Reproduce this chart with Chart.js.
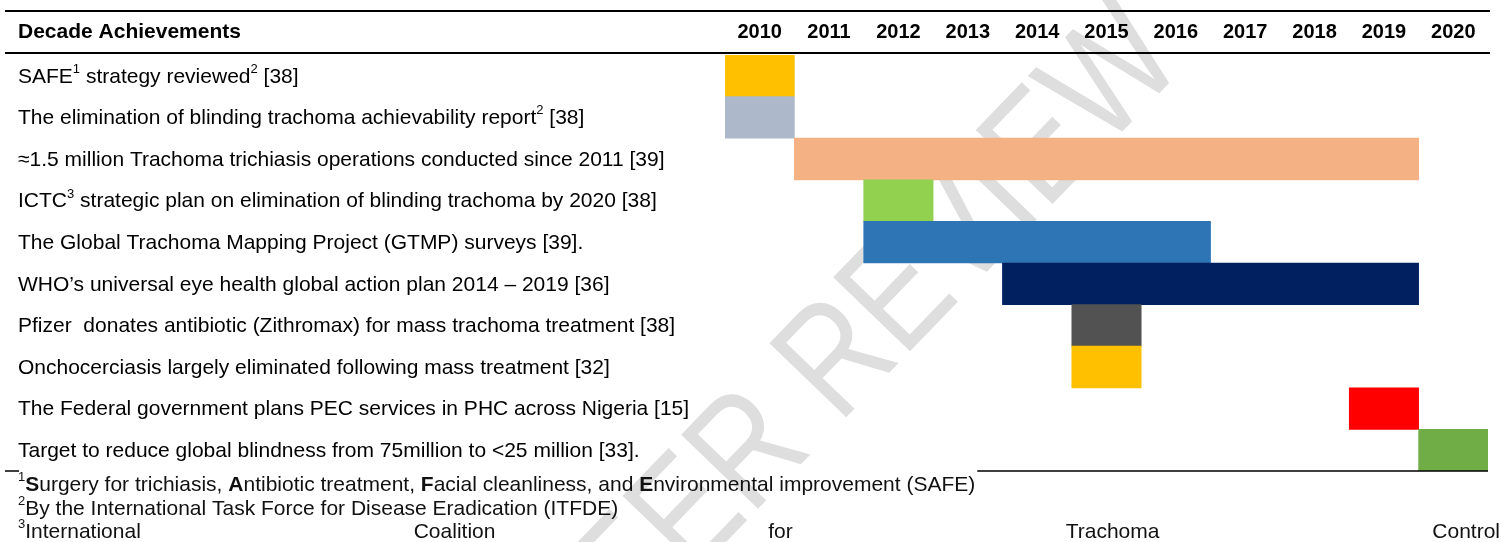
<!DOCTYPE html>
<html>
<head>
<meta charset="utf-8">
<script src="https://cdn.jsdelivr.net/npm/chart.js@4"></script>
<style>
  html, body { margin: 0; padding: 0; background: #fff; }
  #wrap { position: relative; width: 1501px; height: 542px; }
</style>
</head>
<body>
<div id="wrap"><canvas id="decadeChart"></canvas></div>
<script>
// Datos: logros de la década (^n = superíndice, *X* = negrita)
const achievements = [
    'SAFE^1 strategy reviewed^2 [38]',
    'The elimination of blinding trachoma achievability report^2 [38]',
    '≈1.5 million Trachoma trichiasis operations conducted since 2011 [39]',
    'ICTC^3 strategic plan on elimination of blinding trachoma by 2020 [38]',
    'The Global Trachoma Mapping Project (GTMP) surveys [39].',
    'WHO’s universal eye health global action plan 2014 – 2019 [36]',
    'Pfizer  donates antibiotic (Zithromax) for mass trachoma treatment [38]',
    'Onchocerciasis largely eliminated following mass treatment [32]',
    'The Federal government plans PEC services in PHC across Nigeria [15]',
    'Target to reduce global blindness from 75million to <25 million [33].'
];
const startYears = [2010, 2010, 2011, 2012, 2012, 2014, 2015, 2015, 2019, 2020];
const endYears = [2010, 2010, 2019, 2012, 2016, 2019, 2015, 2015, 2019, 2020];
const years = [2010, 2011, 2012, 2013, 2014, 2015, 2016, 2017, 2018, 2019, 2020];
const headerTitle = 'Decade Achievements';
const footnotes = [
    '^1*S*urgery for trichiasis, *A*ntibiotic treatment, *F*acial cleanliness, and *E*nvironmental improvement (SAFE)',
    '^2By the International Task Force for Disease Eradication (ITFDE)',
    '^3International Coalition for Trachoma Control'
];

const barColors = ['#FFC000', '#ADB9CA', '#F4B183', '#92D050', '#2E75B6',
    '#002060', '#525252', '#FFC000', '#FF0000', '#70AD47'];

const FONT = '"Liberation Sans", Arial, sans-serif';
const LABEL_SIZE = 21;
const YEAR_SIZE = 20;
const NOTE_SIZE = 21;

function plain(t) {
    return t.replace(/\^\d/g, '').replace(/\*/g, '');
}

// dibuja texto con superíndices y negritas, devuelve x final
function drawRich(ctx, text, x, y, size, bold, measureOnly) {
    const parts = text.split(/(\^\d|\*[^*]+\*)/).filter(Boolean);
    ctx.textBaseline = 'middle';
    ctx.textAlign = 'left';
    parts.forEach(p => {
        if (p[0] === '^') {
            ctx.font = `${Math.round(size * 0.62)}px ${FONT}`;
            if (!measureOnly) ctx.fillText(p.slice(1), x, y - size * 0.36);
            x += ctx.measureText(p.slice(1)).width;
        } else if (p[0] === '*') {
            ctx.font = `bold ${size}px ${FONT}`;
            if (!measureOnly) ctx.fillText(p.slice(1, -1), x, y);
            x += ctx.measureText(p.slice(1, -1)).width;
        } else {
            ctx.font = `${bold ? 'bold ' : ''}${size}px ${FONT}`;
            if (!measureOnly) ctx.fillText(p, x, y);
            x += ctx.measureText(p).width;
        }
    });
    return x;
}

// marca de agua y fondo
const watermarkPlugin = {
    id: 'watermark',
    beforeDraw(chart) {
        const ctx = chart.ctx;
        ctx.save();
        ctx.fillStyle = '#fff';
        ctx.fillRect(0, 0, chart.width, chart.height);
        ctx.translate(850, 352);
        ctx.rotate(-46 * Math.PI / 180);
        ctx.scale(0.82, 1);
        ctx.font = `155px ${FONT}`;
        ctx.fillStyle = '#dedede';
        ctx.textAlign = 'center';
        ctx.textBaseline = 'middle';
        ctx.fillText('PEER REVIEW', 0, 0);
        ctx.restore();
    }
};

// tabla: líneas, encabezados, etiquetas y notas
const tablePlugin = {
    id: 'tableText',
    afterDraw(chart) {
        const ctx = chart.ctx;
        const xs = chart.scales.x;
        const ys = chart.scales.y;
        const area = chart.chartArea;
        ctx.save();
        ctx.fillStyle = '#000';
        ctx.strokeStyle = '#000';

        // líneas del encabezado
        ctx.lineWidth = 2;
        ctx.beginPath();
        ctx.moveTo(5, 11); ctx.lineTo(area.right + 2, 11);
        ctx.moveTo(5, area.top - 2); ctx.lineTo(area.right + 2, area.top - 2);
        ctx.stroke();

        drawRich(ctx, headerTitle, 18, 32, LABEL_SIZE, true);
        ctx.font = `bold ${YEAR_SIZE}px ${FONT}`;
        ctx.textAlign = 'center';
        years.forEach(yr => {
            ctx.fillText(String(yr), xs.getPixelForValue(yr + 0.5), 32);
        });

        achievements.forEach((t, i) => {
            drawRich(ctx, t, 18, ys.getPixelForValue(i) + 1, LABEL_SIZE, false);
        });

        // notas al pie
        ctx.fillStyle = '#111';
        const noteY = [485, 509, 532];
        const end1 = drawRich(ctx, footnotes[0], 18, noteY[0], NOTE_SIZE, false);
        drawRich(ctx, footnotes[1], 18, noteY[1], NOTE_SIZE, false);

        // nota 3 justificada
        const words = footnotes[2].split(' ');
        const widths = words.map(w => drawRich(ctx, w, 0, 0, NOTE_SIZE, false, true));
        const total = widths.reduce((a, b) => a + b, 0);
        const gap = (1500 - 18 - total) / (words.length - 1);
        let x = 18;
        words.forEach((w, i) => {
            drawRich(ctx, w, x, noteY[2], NOTE_SIZE, false);
            x += widths[i] + gap;
        });

        // línea inferior de la tabla (tapada por la nota 1)
        ctx.strokeStyle = '#000';
        ctx.lineWidth = 1.5;
        ctx.beginPath();
        ctx.moveTo(5, area.bottom); ctx.lineTo(19, area.bottom);
        ctx.moveTo(end1 + 2, area.bottom); ctx.lineTo(area.right, area.bottom);
        ctx.stroke();
        ctx.restore();
    }
};

new Chart(document.getElementById('decadeChart'), {
    type: 'bar',
    data: {
        labels: achievements.map(plain),
        datasets: [{
            data: startYears.map((s, i) => [s, endYears[i] + 1]),
            backgroundColor: barColors,
            borderWidth: 0,
            barPercentage: 1,
            categoryPercentage: 1
        }]
    },
    options: {
        indexAxis: 'y',
        responsive: true,
        maintainAspectRatio: false,
        animation: false,
        devicePixelRatio: 1,
        layout: {
            padding: { left: 725, right: 13, top: 55, bottom: 71 }
        },
        plugins: {
            legend: { display: false },
            tooltip: { enabled: false }
        },
        scales: {
            x: { type: 'linear', min: 2010, max: 2021, display: false },
            y: { display: false }
        }
    },
    plugins: [watermarkPlugin, tablePlugin]
});
</script>
</body>
</html>
